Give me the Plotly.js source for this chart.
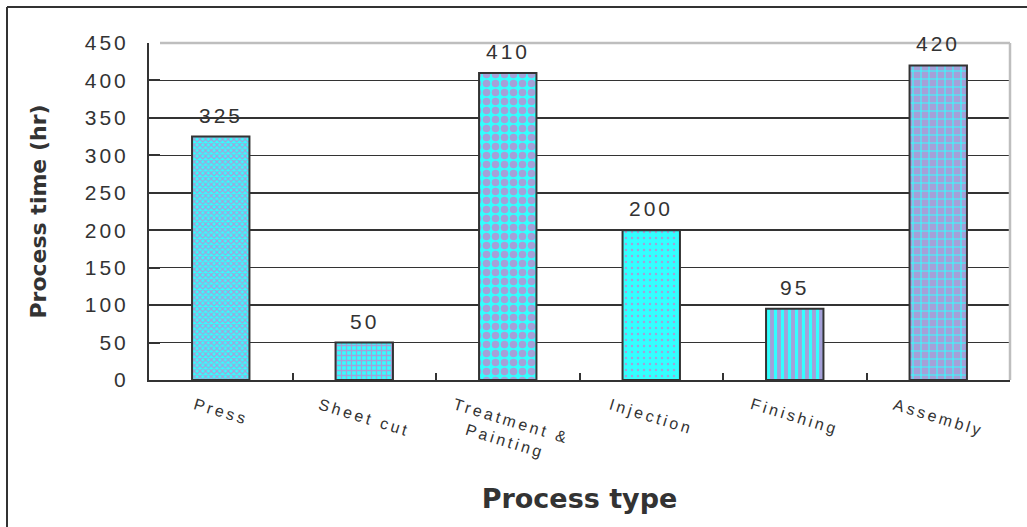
<!DOCTYPE html>
<html>
<head>
<meta charset="utf-8">
<script src="https://cdn.plot.ly/plotly-3.0.1.min.js"></script>
<style>
  html, body { margin: 0; padding: 0; background: #fff; }
  #chart { width: 1027px; height: 527px; }
  .ytick text { letter-spacing: 3px; }
  .annotation-text { letter-spacing: 3px; }
</style>
</head>
<body>
<div id="chart"></div>
<script>
// Process time per process type (hours)
const categories = ['Press', 'Sheet cut', 'Treatment &<br>Painting', 'Injection', 'Finishing', 'Assembly'];
const hours = [325, 50, 410, 200, 95, 420];
const yTicks = [0, 50, 100, 150, 200, 250, 300, 350, 400, 450];

// Fill styles, one per bar: which colour scheme, pattern shape, size and solidity
const CYAN = '#33FFFF';
const LAV = '#A5A0D8';
const fillScheme = ['cyan', 'cyan', 'cyan', 'cyan', 'lav', 'lav'];
const fillShape = ['x', '+', '.', '.', '|', '+'];
const fillSize = [4, 5, 9, 6, 7, 8];
const fillSolidity = [0.5, 0.45, 0.55, 0.12, 0.45, 0.25];

const schemes = {
  cyan: { bg: CYAN, fg: LAV },
  lav:  { bg: LAV,  fg: CYAN }
};

// One bar trace per colour scheme, overlaid on the shared category axis
const traces = Object.keys(schemes).map(key => ({
  type: 'bar',
  x: categories,
  y: hours.map((v, i) => (fillScheme[i] === key ? v : null)),
  width: 0.4,
  marker: {
    color: schemes[key].bg,
    line: { color: '#333333', width: 2 },
    pattern: {
      fillmode: 'overlay',
      shape: fillShape,
      size: fillSize,
      solidity: fillSolidity,
      fgcolor: schemes[key].fg,
      fgopacity: 1
    }
  },
  hoverinfo: 'skip'
}));

const FONT = 'Liberation Sans, Arial';

// Value labels above each bar
const valueLabels = categories.map((c, i) => ({
  x: c, y: hours[i], xref: 'x', yref: 'y',
  text: String(hours[i]),
  showarrow: false, yanchor: 'bottom', yshift: 8,
  font: { family: FONT, size: 21, color: '#333333' }
}));

// Slanted category labels, centred under each bar
const categoryLabels = categories.map(c => ({
  x: c, xref: 'x', y: 0, yref: 'paper',
  text: c, textangle: 17,
  showarrow: false, xanchor: 'center', yanchor: 'top', yshift: -13,
  font: { family: FONT, size: 16, color: '#333333' }
}));

const L = 149, R = 1010, T = 43, B = 380;
const px = v => (v - L) / (R - L);
const py = v => (B - v) / (B - T);

const layout = {
  width: 1027, height: 527,
  margin: { l: L, r: 1027 - R, t: T, b: 527 - B },
  paper_bgcolor: '#ffffff', plot_bgcolor: '#ffffff',
  showlegend: false,
  barmode: 'overlay',
  xaxis: {
    type: 'category',
    showgrid: false,
    showline: true, linecolor: '#333333', linewidth: 2,
    ticks: 'inside', tickson: 'boundaries', ticklen: 7, tickwidth: 2, tickcolor: '#333333',
    showticklabels: false,
    title: { text: 'Process type', standoff: 108,
             font: { family: 'DejaVu Sans', size: 27, color: '#333333', weight: 'bold' } },
    fixedrange: true
  },
  yaxis: {
    range: [0, 450],
    tickvals: yTicks,
    showgrid: true, gridcolor: '#333333', gridwidth: 1.5,
    zeroline: false,
    showline: true, linecolor: '#333333', linewidth: 2,
    ticks: 'inside', ticklen: 11, tickwidth: 2, tickcolor: '#333333',
    ticklabelstandoff: 14,
    tickfont: { family: FONT, size: 21, color: '#333333' },
    title: { text: 'Process time (hr)', standoff: 32,
             font: { family: 'DejaVu Sans', size: 22, color: '#333333', weight: 'bold' } },
    fixedrange: true
  },
  annotations: valueLabels.concat(categoryLabels),
  shapes: [
    // plot border, top and right
    { type: 'line', xref: 'paper', yref: 'paper', x0: px(160), x1: 1, y0: 1, y1: 1,
      line: { color: '#BEBEBE', width: 2.5 }, layer: 'above' },
    { type: 'line', xref: 'paper', yref: 'paper', x0: 1, x1: 1, y0: 0, y1: 1,
      line: { color: '#BEBEBE', width: 2.5 }, layer: 'above' },
    // outer chart frame
    { type: 'line', xref: 'paper', yref: 'paper', x0: px(7), x1: px(7), y0: py(7), y1: py(540),
      line: { color: '#333333', width: 2 } },
    { type: 'line', xref: 'paper', yref: 'paper', x0: px(7), x1: px(1040), y0: py(7), y1: py(7),
      line: { color: '#333333', width: 2 } }
  ]
};

Plotly.newPlot('chart', traces, layout, { staticPlot: true, displayModeBar: false });
</script>
</body>
</html>
